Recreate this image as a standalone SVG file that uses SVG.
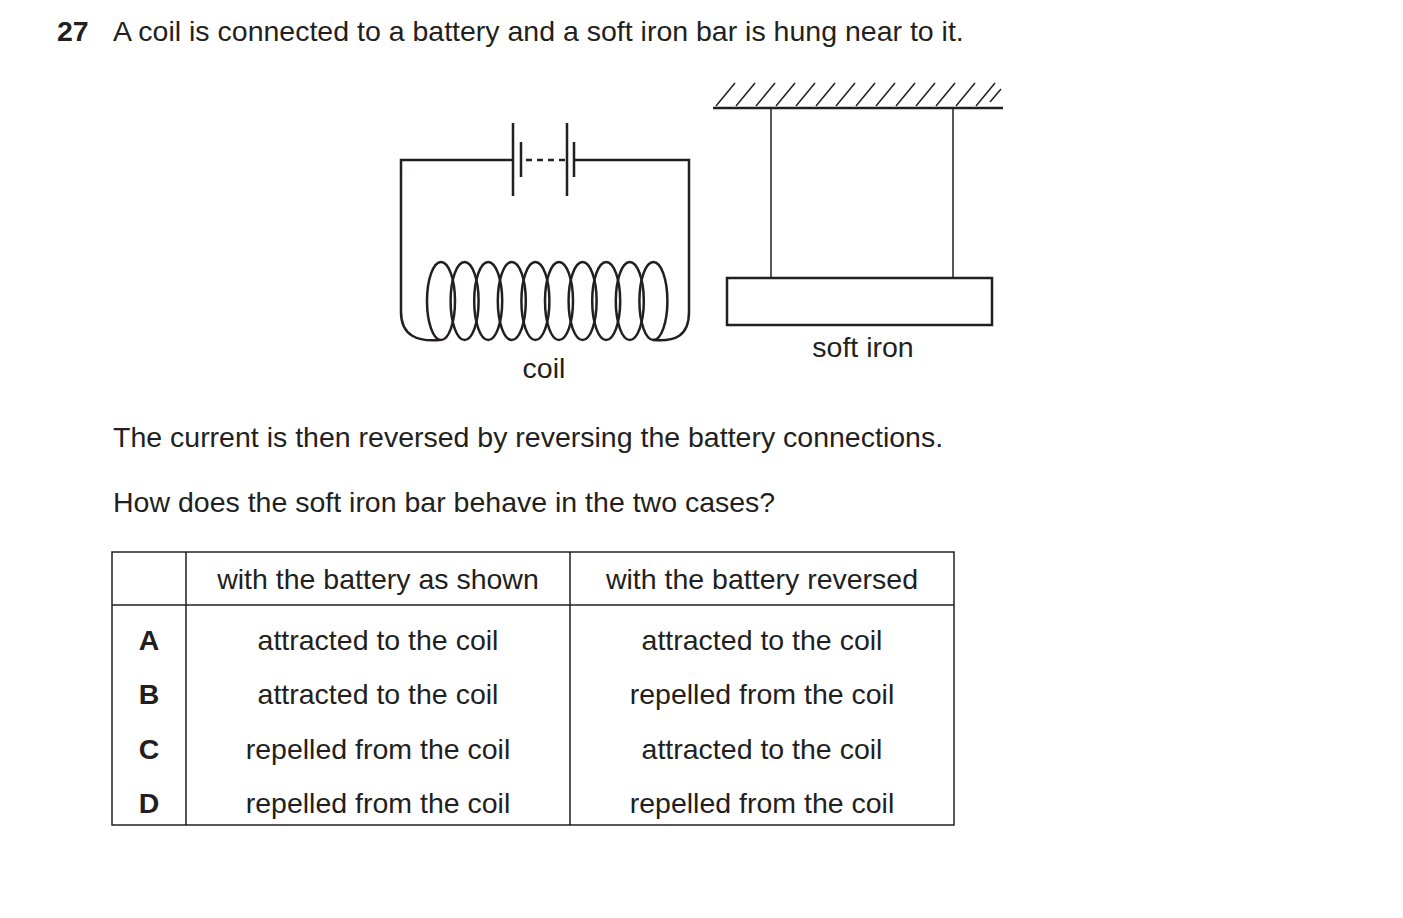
<svg xmlns="http://www.w3.org/2000/svg" width="1403" height="918" viewBox="0 0 1403 918">
<style>
text{font-family:"Liberation Sans",Arial,sans-serif;font-size:28.5px;fill:#231f20}
.c{text-anchor:middle}
.b{font-weight:bold}
.w{fill:none;stroke:#231f20;stroke-width:2.5}
.t{fill:none;stroke:#231f20;stroke-width:1.5}
</style>
<rect width="1403" height="918" fill="#fff"/>
<text x="57" y="41" class="b">27</text>
<text x="113" y="41">A coil is connected to a battery and a soft iron bar is hung near to it.</text>
<g id="circuit">
<path class="w" d="M513,160 H401 V312 C401,336 418,342 440,340"/>
<path class="w" d="M653,340 C675,342 689,336 689,312 V160 H574"/>
<g class="w">
<ellipse cx="441" cy="301" rx="14" ry="39"/>
<ellipse cx="464.6" cy="301" rx="14" ry="39"/>
<ellipse cx="488.2" cy="301" rx="14" ry="39"/>
<ellipse cx="511.8" cy="301" rx="14" ry="39"/>
<ellipse cx="535.4" cy="301" rx="14" ry="39"/>
<ellipse cx="559" cy="301" rx="14" ry="39"/>
<ellipse cx="582.6" cy="301" rx="14" ry="39"/>
<ellipse cx="606.2" cy="301" rx="14" ry="39"/>
<ellipse cx="629.8" cy="301" rx="14" ry="39"/>
<ellipse cx="653.4" cy="301" rx="14" ry="39"/>
</g>
<path class="w" d="M513,123 V196 M521,142 V177 M567,123 V196 M574,142 V177"/>
<path class="w" d="M526,160 H566" stroke-dasharray="6,5"/>
</g>
<text x="544" y="378" class="c">coil</text>
<g id="support">
<line x1="713" y1="108" x2="1003" y2="108" class="w"/>
<path class="t" d="M716,106 L735,83 M736,106 L755,83 M756,106 L775,83 M776,106 L795,83 M796,106 L815,83 M816,106 L835,83 M836,106 L855,83 M856,106 L875,83 M876,106 L895,83 M896,106 L915,83 M916,106 L935,83 M936,106 L955,83 M956,106 L975,83 M976,106 L995,83 M990,102 L1001,89"/>
<line x1="771" y1="108" x2="771" y2="278" class="t"/>
<line x1="953" y1="108" x2="953" y2="278" class="t"/>
</g>
<g id="bar"><rect x="727" y="278" width="265" height="47" class="w"/></g>
<text x="863" y="357" class="c">soft iron</text>
<text x="113" y="447">The current is then reversed by reversing the battery connections.</text>
<text x="113" y="512">How does the soft iron bar behave in the two cases?</text>
<g id="table">
<rect x="112" y="552" width="842" height="273" class="t"/>
<path class="t" d="M112,605 H954 M186,552 V825 M570,552 V825"/>
<text x="378" y="589" class="c">with the battery as shown</text>
<text x="762" y="589" class="c">with the battery reversed</text>
<text x="149" y="650" class="c b">A</text>
<text x="149" y="704" class="c b">B</text>
<text x="149" y="759" class="c b">C</text>
<text x="149" y="813" class="c b">D</text>
<text x="378" y="650" class="c">attracted to the coil</text>
<text x="378" y="704" class="c">attracted to the coil</text>
<text x="378" y="759" class="c">repelled from the coil</text>
<text x="378" y="813" class="c">repelled from the coil</text>
<text x="762" y="650" class="c">attracted to the coil</text>
<text x="762" y="704" class="c">repelled from the coil</text>
<text x="762" y="759" class="c">attracted to the coil</text>
<text x="762" y="813" class="c">repelled from the coil</text>
</g>
</svg>
